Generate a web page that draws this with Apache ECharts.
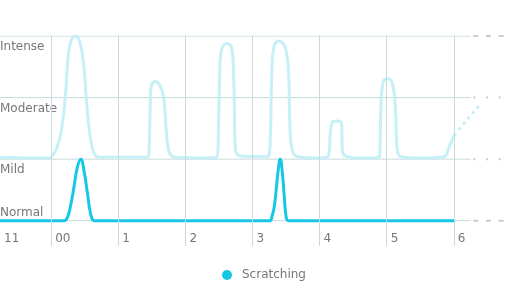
<!DOCTYPE html>
<html>
<head>
<meta charset="utf-8">
<script src="https://cdn.jsdelivr.net/npm/echarts@6/dist/echarts.min.js"></script>
<style>html,body{margin:0;padding:0;background:#fff}#c{width:505px;height:283px}</style>
</head>
<body>
<div id="c"></div>
<script>
// Axis extents (hours relative to midnight)
const X_MIN = -0.763;
const X_MAX = 6.763;
const Y_MIN = -0.411;
const Y_MAX = 3;

// Tick labels
const tickValues = [X_MIN, 0, 1, 2, 3, 4, 5, 6];
const tickLabels = ['11', '00', '1', '2', '3', '4', '5', '6'];
const hourLines = [0, 1, 2, 3, 4, 5, 6];
const levelLabels = ['Normal', 'Mild', 'Moderate', 'Intense'];
const levelValues = [0, 1, 2, 3];
const gridEnd = 6.254;

// Scratching series
const scratchHours = [-0.763, 0.14, 0.19, 0.24, 0.29, 0.34, 0.39, 0.44, 0.49, 0.54, 0.59, 0.64, 0.69,
  3.10, 3.233, 3.263, 3.293, 3.323, 3.353, 3.383, 3.413, 3.443, 3.473, 3.503, 3.533, 3.563, 6.02];
const scratchValues = [0, 0, 0, 0.05, 0.25, 0.55, 0.87, 1.0, 0.8, 0.45, 0.1, 0, 0,
  0, 0, 0, 0.08, 0.22, 0.5, 0.82, 1.0, 0.8, 0.4, 0.05, 0, 0, 0];

// Itch intensity series (pale)
const itchHours = [-0.763, -0.3, -0.02, 0.03, 0.09, 0.15, 0.209, 0.256, 0.30, 0.358, 0.42, 0.482, 0.522, 0.582, 0.657, 0.75,
  1.2, 1.44, 1.467, 1.478, 1.495, 1.552, 1.62, 1.676, 1.727, 1.766, 1.851,
  2.2, 2.47, 2.497, 2.515, 2.545, 2.622, 2.69, 2.721, 2.731, 2.746, 2.821,
  3.2, 3.243, 3.27, 3.284, 3.319, 3.393, 3.493, 3.542, 3.552, 3.582, 3.667,
  4.0, 4.125, 4.164, 4.199, 4.264, 4.328, 4.339, 4.388,
  4.6, 4.89, 4.905, 4.921, 4.951, 5.01, 5.085, 5.134, 5.149, 5.209,
  5.5, 5.855, 5.93, 6.005];
const itchValues = [1.03, 1.02, 1.02, 1.07, 1.2, 1.45, 2.0, 2.7, 2.93, 3.0, 2.92, 2.56, 2.0, 1.36, 1.06, 1.03,
  1.03, 1.03, 1.47, 2.0, 2.2, 2.26, 2.2, 2.0, 1.31, 1.09, 1.03,
  1.02, 1.03, 1.74, 2.5, 2.8, 2.88, 2.8, 2.28, 1.74, 1.15, 1.05,
  1.04, 1.05, 1.5, 2.28, 2.83, 2.92, 2.8, 2.28, 1.74, 1.2, 1.04,
  1.02, 1.04, 1.47, 1.61, 1.62, 1.58, 1.15, 1.05,
  1.02, 1.04, 1.47, 2.01, 2.26, 2.31, 2.23, 1.74, 1.26, 1.04,
  1.02, 1.04, 1.2, 1.39];
// Forecast continuation (dashed)
const forecastHours = [6.005, 6.204, 6.403];
const forecastValues = [1.39, 1.65, 1.90];

const zip = (xs, ys) => xs.map((x, i) => [x, ys[i]]);
const GRID = '#c8dbdb';
const TEXT = '#777777';
const CYAN = '#16c8e6';
const PALE = '#c5f0f7';

const series = [];
// horizontal grid lines: solid part and dashed extension
levelValues.forEach((v, i) => {
  series.push({
    type: 'line', silent: true, symbol: 'none', z: 1,
    data: [[X_MIN, v], [gridEnd, v]],
    lineStyle: { color: GRID, width: 1 }
  });
  series.push({
    type: 'line', silent: true, symbol: 'none', z: 1,
    data: [[6.29, v], [X_MAX, v]],
    lineStyle: { color: '#cccccc', width: 2, type: (i === 1 || i === 2) ? [2, 10.7] : [5, 7.7] }
  });
});
// vertical grid lines
series.push({
  type: 'line', silent: true, symbol: 'none', z: 1, data: [],
  markLine: {
    silent: true, symbol: 'none', animation: false,
    label: { show: false },
    lineStyle: { color: GRID, width: 1, type: 'solid' },
    data: hourLines.map(h => ({ xAxis: h }))
  }
});
series.push({
  name: 'Itch', type: 'line', symbol: 'none', smooth: 0.4, z: 3,
  data: zip(itchHours, itchValues),
  lineStyle: { color: PALE, width: 3 }, itemStyle: { color: PALE }
});
series.push({
  name: 'Itch forecast', type: 'line', symbol: 'none', smooth: 0.3, z: 3,
  data: zip(forecastHours, forecastValues),
  lineStyle: { color: PALE, width: 3, type: [3, 4] }, itemStyle: { color: PALE }
});
series.push({
  name: 'Scratching', type: 'line', symbol: 'none', smooth: 0.5, z: 4,
  data: zip(scratchHours, scratchValues),
  lineStyle: { color: CYAN, width: 3 }, itemStyle: { color: CYAN }
});

const labelFor = v => {
  const i = tickValues.findIndex(t => Math.abs(t - v) < 1e-6);
  return i >= 0 ? tickLabels[i] : '';
};
const levelFor = v => {
  const i = levelValues.findIndex(t => Math.abs(t - v) < 1e-6);
  return i >= 0 ? levelLabels[i] : '';
};

const yBase = {
  type: 'value', min: Y_MIN, max: Y_MAX, minInterval: 1, maxInterval: 1,
  axisLine: { show: false }, axisTick: { show: false }, splitLine: { show: false }
};

const chart = echarts.init(document.getElementById('c'), null, { renderer: 'canvas' });
chart.setOption({
  animation: false,
  backgroundColor: '#fff',
  textStyle: { fontFamily: 'DejaVu Sans' },
  grid: { left: 0, right: 0, top: 36, bottom: 37, containLabel: false, outerBoundsMode: 'none' },
  legend: {
    data: ['Scratching'], icon: 'circle', left: 217, top: 264,
    itemWidth: 20, itemHeight: 10, itemGap: 10,
    textStyle: { color: TEXT, fontSize: 12, fontFamily: 'DejaVu Sans' }
  },
  xAxis: {
    type: 'value', min: X_MIN, max: X_MAX, minInterval: 1, maxInterval: 1,
    axisLine: { show: false }, axisTick: { show: false }, splitLine: { show: false },
    axisLabel: {
      inside: true, margin: 1, align: 'left', verticalAlign: 'bottom',
      padding: [0, 0, 0, 4], color: TEXT, fontSize: 12, fontFamily: 'DejaVu Sans',
      showMinLabel: true, showMaxLabel: true,
      formatter: labelFor
    }
  },
  yAxis: [
    Object.assign({}, yBase, {
      axisLabel: {
        inside: true, margin: 0, align: 'left', verticalAlign: 'top', padding: [5, 0, 0, 0],
        color: TEXT, fontSize: 12, fontFamily: 'DejaVu Sans',
        formatter: v => (v >= 1 ? levelFor(v) : '')
      }
    }),
    Object.assign({}, yBase, {
      position: 'left',
      axisLabel: {
        inside: true, margin: 0, align: 'left', verticalAlign: 'bottom', padding: [0, 0, 2, 0],
        color: TEXT, fontSize: 12, fontFamily: 'DejaVu Sans',
        formatter: v => (Math.abs(v) < 1e-6 ? levelFor(v) : '')
      }
    })
  ],
  series: series
});
</script>
</body>
</html>
